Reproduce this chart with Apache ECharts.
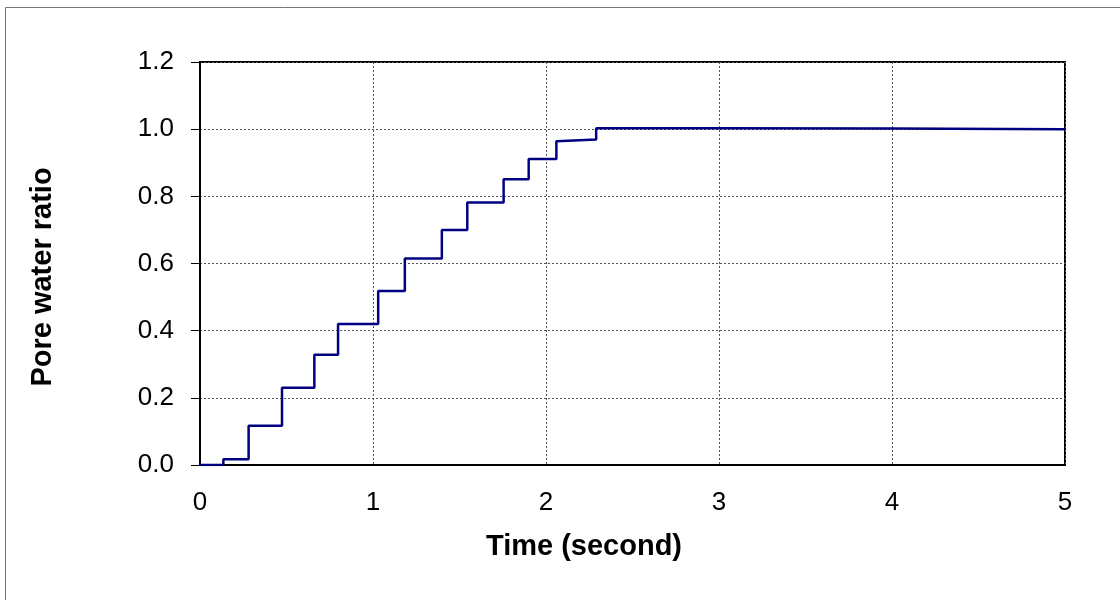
<!DOCTYPE html>
<html>
<head>
<meta charset="utf-8">
<script src="https://cdn.jsdelivr.net/npm/echarts@6/dist/echarts.min.js"></script>
<style>html,body{margin:0;padding:0;background:#fff}#c{width:1120px;height:600px}</style>
</head>
<body>
<div id="c"></div>
<script>
// Data
var stepTimes = [0.135, 0.281, 0.474, 0.661, 0.798, 1.03, 1.184, 1.398, 1.545, 1.755, 1.90, 2.06, 2.29];
var levelStart = [0, 0.017, 0.117, 0.230, 0.328, 0.420, 0.518, 0.615, 0.700, 0.782, 0.851, 0.911, 0.964, 1.003];
var levelEnd   = [0, 0.017, 0.117, 0.230, 0.328, 0.420, 0.518, 0.615, 0.700, 0.782, 0.851, 0.911, 0.969, 1.003];
var tailTimes = [3, 4, 5];
var tailValues = [1.003, 1.002, 1.0];
var xTicks = [0, 1, 2, 3, 4, 5];
var yTicks = ['0.0', '0.2', '0.4', '0.6', '0.8', '1.0', '1.2'];

var points = [[0, levelStart[0]]];
for (var i = 0; i < stepTimes.length; i++) {
  points.push([stepTimes[i], levelEnd[i]]);
  points.push([stepTimes[i], levelStart[i + 1]]);
}
for (var j = 0; j < tailTimes.length; j++) points.push([tailTimes[j], tailValues[j]]);

var chart = echarts.init(document.getElementById('c'));
var FONT = '"Liberation Sans", Arial, sans-serif';
chart.setOption({
  backgroundColor: '#fff',
  animation: false,
  grid: { left: 200, right: 55, top: 62, bottom: 135, show: true, borderColor: '#000', borderWidth: 2, backgroundColor: 'transparent' },
  xAxis: {
    type: 'value', min: 0, max: 5, interval: 1,
    axisLine: { lineStyle: { color: '#000', width: 2 } },
    axisTick: { show: false },
    axisLabel: { color: '#000', fontSize: 26, fontFamily: FONT, margin: 25,
      formatter: function (v) { return String(xTicks[Math.round(v)]); } },
    splitLine: { show: true, lineStyle: { color: '#555', type: [2, 2], width: 1 } }
  },
  yAxis: {
    type: 'value', min: 0, max: 1.2, interval: 0.2,
    axisLine: { show: true, lineStyle: { color: '#000', width: 2 } },
    axisTick: { show: true, inside: false, length: 9, lineStyle: { color: '#000', width: 1 } },
    axisLabel: { color: '#000', fontSize: 26, fontFamily: FONT, margin: 26,
      formatter: function (v) { return yTicks[Math.round(v / 0.2)]; } },
    splitLine: { show: true, lineStyle: { color: '#555', type: [2, 2], width: 1 } }
  },
  graphic: [
    { type: 'rect', shape: { x: 5.5, y: 7.5, width: 1200, height: 700 }, style: { fill: 'none', stroke: '#777', lineWidth: 1 }, silent: true },
    { type: 'text', x: 584, y: 547, style: { text: 'Time (second)', font: 'bold 29px ' + FONT, fill: '#000', textAlign: 'center', textVerticalAlign: 'middle' } },
    { type: 'text', x: 43, y: 277, rotation: Math.PI / 2, style: { text: 'Pore water ratio', font: 'bold 29px ' + FONT, fill: '#000', textAlign: 'center', textVerticalAlign: 'middle' } }
  ],
  series: [{
    type: 'line', data: points, showSymbol: false, symbol: 'none',
    lineStyle: { color: '#000080', width: 2.5 }, clip: true
  }]
});
</script>
</body>
</html>
